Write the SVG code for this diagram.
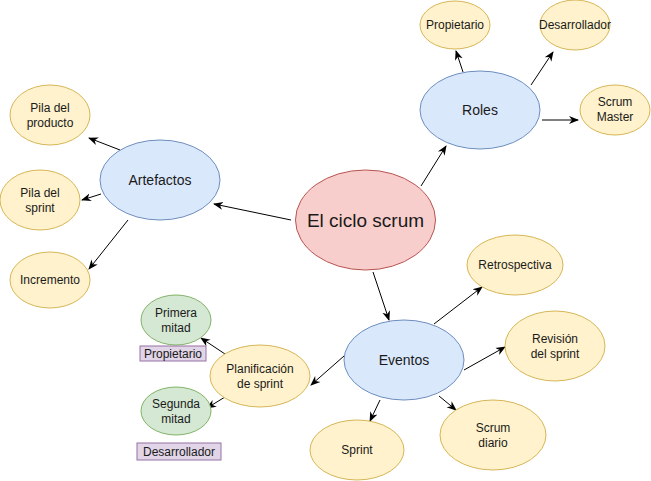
<svg xmlns="http://www.w3.org/2000/svg" width="651" height="481" viewBox="0 0 651 481">
<defs>
<marker id="arr" markerUnits="userSpaceOnUse" viewBox="0 0 10 10" refX="9" refY="5" markerWidth="10" markerHeight="10" orient="auto">
<path d="M0,1 L10,5 L0,9 L3,5 Z" fill="#000"/>
</marker>
<style>
text{font-family:"Liberation Sans",Arial,Helvetica,sans-serif;fill:#1a1a1a;text-anchor:middle;dominant-baseline:central;font-size:12px}
.blue{fill:#dae8fc;stroke:#6c8ebf}
.yel{fill:#fff2cc;stroke:#d6b656}
.red{fill:#f8cecc;stroke:#b85450}
.grn{fill:#d5e8d4;stroke:#82b366}
.pur{fill:#e1d5e7;stroke:#9673a6}
.big{font-size:14px}
.huge{font-size:19px}
#edges line{stroke:#000;stroke-width:1;marker-end:url(#arr)}
</style>
</defs>
<rect width="651" height="481" fill="#fff"/>
<g id="edges">
<line x1="421" y1="186" x2="446" y2="146"/>
<line x1="291" y1="220" x2="214" y2="204"/>
<line x1="373" y1="272" x2="389" y2="320"/>
<line x1="463" y1="72" x2="456" y2="51"/>
<line x1="531" y1="85" x2="553" y2="52"/>
<line x1="542" y1="120" x2="578" y2="120"/>
<line x1="120" y1="150" x2="89" y2="138"/>
<line x1="101" y1="194" x2="82" y2="200"/>
<line x1="128" y1="220" x2="89" y2="269"/>
<line x1="434" y1="324" x2="482" y2="287"/>
<line x1="464" y1="370" x2="505" y2="347"/>
<line x1="439" y1="396" x2="456" y2="410"/>
<line x1="380" y1="400" x2="370" y2="421"/>
<line x1="344" y1="356" x2="311" y2="385"/>
<line x1="225" y1="354" x2="201" y2="338"/>
<line x1="225" y1="397" x2="207" y2="408"/>
</g>
<g id="center"><ellipse class="red" cx="365.5" cy="220" rx="70" ry="50"/><text class="huge" x="365.5" y="220">El ciclo scrum</text></g>
<g id="roles"><ellipse class="blue" cx="480" cy="110" rx="60" ry="39"/><text class="big" x="480" y="110">Roles</text></g>
<g id="propietario"><ellipse class="yel" cx="455" cy="25" rx="35" ry="24"/><text x="455" y="25">Propietario</text></g>
<g id="desarrollador"><ellipse class="yel" cx="575" cy="25" rx="35" ry="25"/><text x="575" y="25">Desarrollador</text></g>
<g id="scrummaster"><ellipse class="yel" cx="615" cy="110" rx="35" ry="25"/><text x="615" y="102">Scrum</text><text x="615" y="117">Master</text></g>
<g id="artefactos"><ellipse class="blue" cx="160" cy="180" rx="60" ry="40"/><text class="big" x="160" y="180">Artefactos</text></g>
<g id="piladelproducto"><ellipse class="yel" cx="50" cy="115" rx="40" ry="30"/><text x="50" y="108">Pila del</text><text x="50" y="123">producto</text></g>
<g id="piladelsprint"><ellipse class="yel" cx="40" cy="200" rx="40" ry="30"/><text x="40" y="193">Pila del</text><text x="40" y="208">sprint</text></g>
<g id="incremento"><ellipse class="yel" cx="50" cy="280" rx="40" ry="28"/><text x="50" y="280">Incremento</text></g>
<g id="eventos"><ellipse class="blue" cx="404" cy="360" rx="60" ry="40"/><text class="big" x="404" y="360">Eventos</text></g>
<g id="retrospectiva"><ellipse class="yel" cx="515" cy="265" rx="48" ry="30"/><text x="515" y="265">Retrospectiva</text></g>
<g id="revision"><ellipse class="yel" cx="555" cy="346" rx="50" ry="35"/><text x="555" y="339">Revisión</text><text x="555" y="354">del sprint</text></g>
<g id="scrumdiario"><ellipse class="yel" cx="493" cy="435" rx="53" ry="35"/><text x="493" y="428">Scrum</text><text x="493" y="443">diario</text></g>
<g id="sprint"><ellipse class="yel" cx="357" cy="450" rx="47" ry="30"/><text x="357" y="450">Sprint</text></g>
<g id="planificacion"><ellipse class="yel" cx="260" cy="376" rx="50" ry="31"/><text x="260" y="369">Planificación</text><text x="260" y="384">de sprint</text></g>
<g id="primeramitad"><ellipse class="grn" cx="176" cy="320" rx="35" ry="25"/><text x="176" y="313">Primera</text><text x="176" y="328">mitad</text></g>
<g id="propietario-tag"><rect class="pur" x="140" y="346" width="66" height="15"/><text x="173" y="353.5">Propietario</text></g>
<g id="segundamitad"><ellipse class="grn" cx="176" cy="411" rx="35" ry="24"/><text x="176" y="404">Segunda</text><text x="176" y="419">mitad</text></g>
<g id="desarrollador-tag"><rect class="pur" x="137" y="443" width="84" height="17"/><text x="179" y="451.5">Desarrollador</text></g>
</svg>
